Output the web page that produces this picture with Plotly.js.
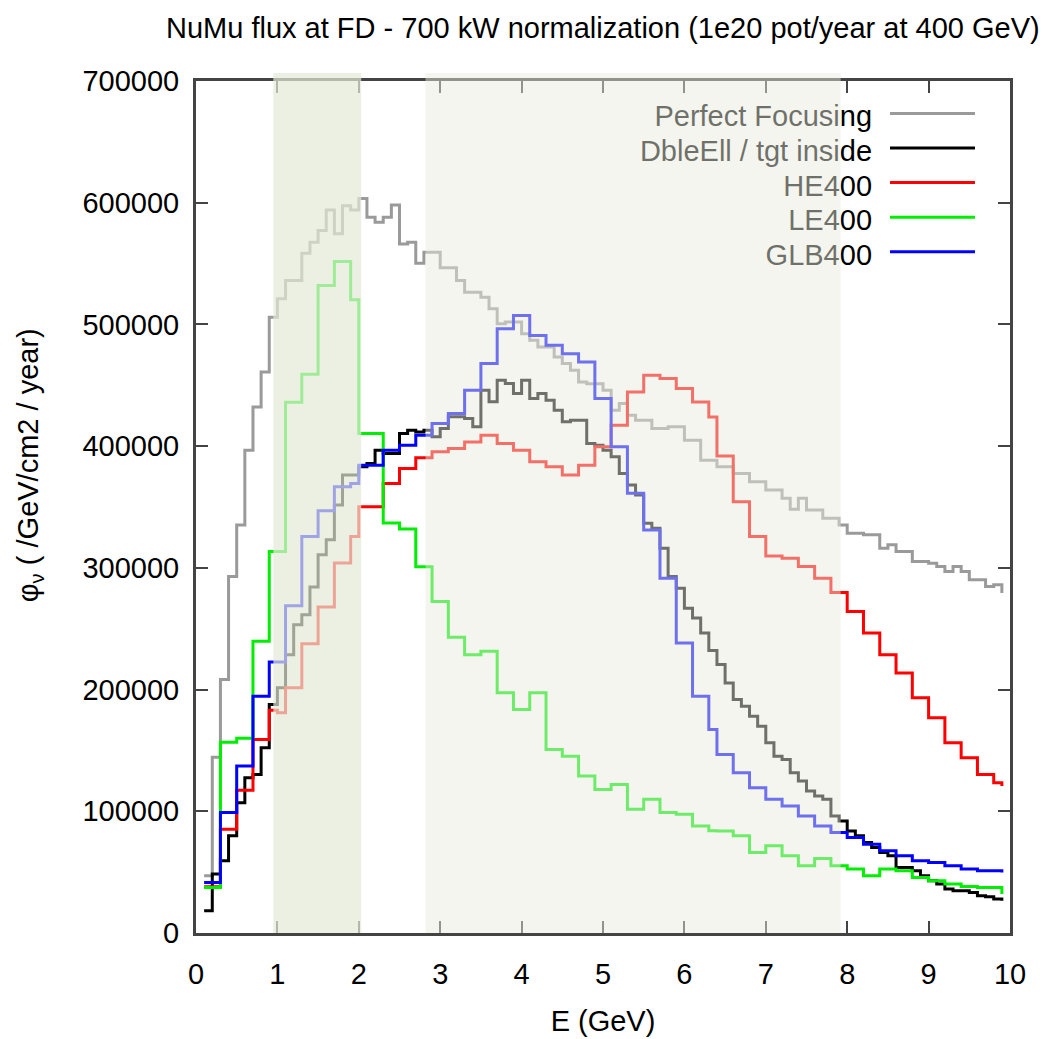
<!DOCTYPE html>
<html>
<head>
<meta charset="utf-8">
<script src="https://cdn.plot.ly/plotly-3.0.1.min.js"></script>
<style>html,body{margin:0;padding:0;background:#fff;}#chart{width:1053px;height:1039px;}</style>
</head>
<body>
<div id="chart"></div>
<script>
// Energy bin left edges (GeV)
const energy = [
0.1,0.2,0.3,0.4,0.5,0.6,0.7,0.8,0.9,1.0,
1.1,1.2,1.3,1.4,1.5,1.6,1.7,1.8,1.9,2.0,
2.1,2.2,2.3,2.4,2.5,2.6,2.7,2.8,2.9,3.0,
3.1,3.2,3.3,3.4,3.5,3.6,3.7,3.8,3.9,4.0,
4.1,4.2,4.3,4.4,4.5,4.6,4.7,4.8,4.9,5.0,
5.1,5.2,5.3,5.4,5.5,5.6,5.7,5.8,5.9,6.0,
6.1,6.2,6.3,6.4,6.5,6.6,6.7,6.8,6.9,7.0,
7.1,7.2,7.3,7.4,7.5,7.6,7.7,7.8,7.9,8.0,
8.1,8.2,8.3,8.4,8.5,8.6,8.7,8.8,8.9,9.0,
9.1,9.2,9.3,9.4,9.5,9.6,9.7,9.8,9.9];

const perfectFocusing = [
47000,144300,208200,292900,335300,396700,432200,460900,506000,521100,
536100,536100,558500,567500,577100,594000,574400,597600,594000,603500,
588000,584000,588000,598100,566100,567500,550300,559300,559300,546500,
546500,536100,526500,526500,522400,512900,500600,502000,502000,492400,
486900,481400,481400,473200,467800,462300,452700,451300,451300,445900,
429500,435000,425400,421300,421300,414500,414500,415900,415900,404900,
404900,388500,388500,383000,383000,377600,377600,370800,370800,363900,
363900,357100,348100,357100,347500,347500,340700,340700,335300,328400,
328400,327100,327100,316100,318900,313400,313400,305200,305200,303800,
301100,297000,301100,297000,290200,290200,284700,286100,279300];

const dbleEll = [
18300,48400,59300,79800,107100,127600,130300,152200,187700,201400,
228700,253300,261500,284200,310700,323000,351700,376200,376200,383000,
385800,396700,394000,394000,410400,413100,411700,413100,407700,414500,
424100,424100,422700,415900,445900,436400,454100,451400,443200,454100,
439100,443200,437700,429500,420000,421300,421300,402200,400800,396700,
391300,377600,368000,359900,336600,332500,316100,292900,283300,266900,
258800,246500,232000,220500,205500,191800,186300,178100,169900,156300,
145300,142600,131700,124800,116600,112500,109800,96100,92000,83800,
79800,74300,70200,66100,63400,53800,53800,51100,47000,42900,
40200,36100,34700,34700,33300,30600,29800,27900,26500];

const he400 = [
38000,38000,85200,85200,117200,117200,159000,159000,183000,181000,
201400,201400,237700,237700,267800,267800,303900,303900,325700,350300,
350300,350300,369400,369400,381700,381700,390500,390500,395300,395300,
398100,398100,403500,403500,409000,409000,402200,402200,396700,396700,
387200,387200,383000,383000,376200,376200,384400,384400,399400,399400,
417200,417200,444500,444500,458200,458200,455500,455500,447300,447300,
436300,436300,424000,391800,391800,354400,354400,325700,325700,309800,
309800,307900,307900,301100,301100,291500,291500,279800,279800,264200,
264200,246500,246500,228700,228700,213700,213700,193200,193200,176800,
176800,156300,156300,144000,144000,130300,130300,123500,120800];

const le400 = [
37400,37400,156800,156800,160000,160000,239600,239600,313400,313400,
436000,436000,459000,459000,532000,532000,551700,551700,520200,410400,
410400,410400,336900,336900,332000,332000,301000,301000,272400,272400,
243000,243000,228700,228700,231400,231400,197300,197300,183600,183600,
197300,197300,150800,150800,145300,145300,128900,128900,118000,118000,
122100,122100,101600,101600,109800,109800,98900,98900,97500,97500,
87900,87900,84000,83900,83900,79800,79800,66100,66100,71600,
71600,63400,63400,55200,55200,61200,61200,55200,55200,52500,
52500,47000,47000,52500,52500,51100,51100,45700,45700,42900,
42900,40200,40200,38300,38300,37400,37400,37400,32000];

const glb400 = [
41500,41500,98900,98900,137200,137200,194500,194500,222700,222700,
268900,268900,325700,325700,347000,347000,366700,366700,369400,384400,
384400,384400,396700,396700,400800,400800,409000,409000,418600,418600,
426800,426800,445900,445900,467800,467800,496500,496500,507400,507400,
491000,491000,482800,482800,476000,476000,469100,469100,439100,439100,
399400,399400,361200,361200,331200,331200,291500,291500,238300,238300,
194500,194500,167200,146700,146700,131700,131700,119400,119400,109800,
109800,104300,104300,96100,96100,88000,88000,82500,82500,78400,
78400,73000,73000,67500,67500,63400,63400,59300,59300,57900,
57900,55200,55200,52500,52500,51100,51100,51100,49700];

const seriesNames = ["Perfect Focusing", "DbleEll / tgt inside", "HE400", "LE400", "GLB400"];
const seriesValues = [perfectFocusing, dbleEll, he400, le400, glb400];
const seriesColors = ["#9a9a9a", "#000000", "#ff0000", "#00ee00", "#0000ff"];

// Highlighted energy bands (GeV)
const bandRanges = [[0.95, 2.03], [2.82, 7.92]];

const FONT = "Liberation Sans, Arial, Helvetica, sans-serif";

const traces = seriesNames.map((name, i) => ({
  type: "scatter", mode: "lines", name: name,
  x: energy, y: seriesValues[i],
  line: {shape: "hv", color: seriesColors[i], width: 3},
  showlegend: false, hoverinfo: "skip"
}));

// custom legend (line sample on the right of the label)
const legendTop = 0.962, legendStep = 0.0406;
const shapes = seriesNames.map((name, i) => ({
  type: "line", xref: "paper", yref: "paper", layer: "above",
  x0: 0.8526, x1: 0.957, y0: legendTop - i * legendStep, y1: legendTop - i * legendStep,
  line: {color: seriesColors[i], width: 3},
  label: {text: name, textposition: "start", xanchor: "right", yanchor: "middle",
          textangle: 0, padding: 18, font: {family: FONT, size: 29, color: "#000"}}
}));

const bandStyles = [
  {fill: "rgb(228,234,215)", opacity: 0.7},
  {fill: "rgb(230,234,220)", opacity: 0.48}
];
bandRanges.forEach((r, i) => {
  shapes.push({
    type: "rect", xref: "x", yref: "paper", layer: "above",
    x0: r[0], x1: r[1], y0: 0, y1: 1.0094,
    fillcolor: bandStyles[i].fill, opacity: bandStyles[i].opacity,
    line: {width: 0}
  });
});

const layout = {
  width: 1053, height: 1039,
  margin: {l: 196, r: 43, t: 81, b: 106},
  paper_bgcolor: "#fff", plot_bgcolor: "#fff",
  font: {family: FONT, size: 29, color: "#000"},
  title: {text: "NuMu flux at FD - 700 kW normalization (1e20 pot/year at 400 GeV)",
          x: 0.5725, xanchor: "center", y: 0.973, yanchor: "middle",
          font: {family: FONT, size: 29, color: "#000"}},
  xaxis: {
    range: [0, 10], dtick: 1, tick0: 0,
    ticks: "inside", ticklen: 12, tickwidth: 2, tickcolor: "#444",
    showline: true, linewidth: 3, linecolor: "#444", mirror: "ticks",
    showgrid: false, zeroline: false,
    ticklabelstandoff: 13,
    tickfont: {family: FONT, size: 29, color: "#000"},
    title: {text: "E (GeV)", standoff: 22, font: {family: FONT, size: 29, color: "#000"}}
  },
  yaxis: {
    range: [0, 700000], dtick: 100000, tick0: 0, tickformat: "d",
    ticks: "inside", ticklen: 12, tickwidth: 2, tickcolor: "#444",
    showline: true, linewidth: 3, linecolor: "#444", mirror: "ticks",
    showgrid: false, zeroline: false,
    ticklabelstandoff: 8,
    tickfont: {family: FONT, size: 29, color: "#000"}
  },
  shapes: shapes,
  annotations: [{
    text: "φ<sub>ν</sub> ( /GeV/cm2 / year)", textangle: -90,
    xref: "paper", yref: "paper", x: -0.204, y: 0.549,
    xanchor: "center", yanchor: "middle", showarrow: false,
    font: {family: FONT, size: 29, color: "#000"}
  }],
  showlegend: false
};

Plotly.newPlot("chart", traces, layout, {displayModeBar: false, staticPlot: true});
</script>
</body>
</html>
